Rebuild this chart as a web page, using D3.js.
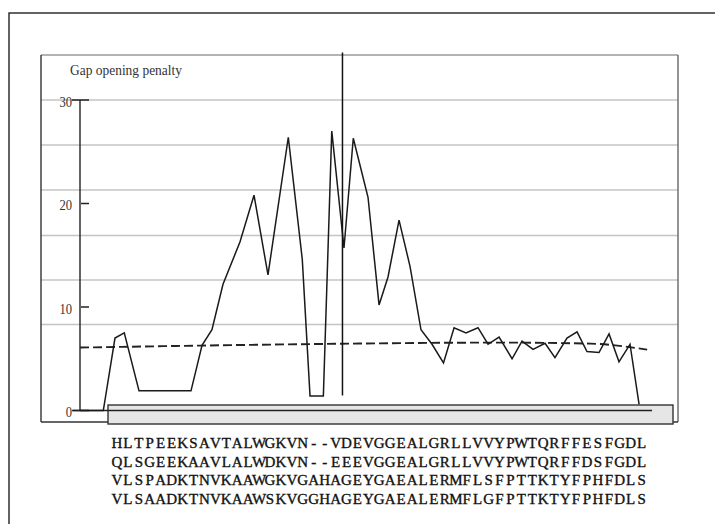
<!DOCTYPE html>
<html>
<head>
<meta charset="utf-8">
<script src="https://cdn.jsdelivr.net/npm/d3@7"></script>
<style>
  body { margin: 0; background: #fff; }
  svg { display: block; }
</style>
</head>
<body>
<div id="chart"></div>
<script>
// ===== data =====
// alignment column of each vertex of the penalty profile
var positions = [-3.43, -1.3, -0.23, 0.62, 1.97, 6.73, 7.74, 8.65, 9.66, 11.22,
    12.5, 13.78, 15.64, 16.92, 17.63, 18.85, 19.62, 20.74, 21.59, 22.94,
    23.95, 24.77, 25.78, 26.79, 27.79, 28.8, 29.85, 30.82, 31.91, 33.01,
    33.93, 34.94, 36.13, 37.04, 38.05, 39.15, 40.06, 41.16, 42.08, 42.99,
    44.09, 45.01, 45.92, 46.93, 47.76];
// gap opening penalty at each vertex
var penalty = [0, 0, 7.0, 7.5, 1.9, 1.9, 6.3, 7.8, 12.2, 16.3,
    20.8, 13.1, 26.4, 14.6, 1.4, 1.4, 27.0, 15.7, 26.3, 20.6,
    10.2, 12.9, 18.4, 13.9, 7.8, 6.4, 4.6, 8.0, 7.5, 8.0,
    6.4, 7.1, 5.0, 6.7, 5.9, 6.5, 5.1, 7.0, 7.6, 5.7,
    5.6, 7.4, 4.7, 6.4, 0.6];

// dashed average line
var meanPos = [-3.43, 7.55, 21.3, 35.0, 43.3, 48.5];
var meanVal = [6.08, 6.27, 6.46, 6.56, 6.46, 5.88];

var yTicks = [0, 10, 20, 30];
var gridVals = [8.3, 12.6, 16.9, 21.3, 25.65, 30];

// vertical marker
var markerPos = 20.6;
var markerSpan = [1.45, 34.6];

// zero baseline extent
var baseSpan = [-4.07, 48.95];

var axisTitle = "Gap opening penalty";
var sequences = [
    "HLTPEEKSAVTALWGKVN--VDEVGGEALGRLLVVYPWTQRFFESFGDL",
    "QLSGEEKAAVLALWDKVN--EEEVGGEALGRLLVVYPWTQRFFDSFGDL",
    "VLSPADKTNVKAAWGKVGAHAGEYGAEALERMFLSFPTTKTYFPHFDLS",
    "VLSAADKTNVKAAWSKVGGHAGEYGAEALERMFLGFPTTKTYFPHFDLS"
];

// ===== drawing =====
var svg = d3.select("#chart")
    .append("svg")
    .attr("width", 715)
    .attr("height", 524)

var xScale = d3.scaleLinear().domain([0, 48]).range([117.5, 641.7])
var yScale = d3.scaleLinear().domain([0, 30]).range([410.5, 100])

// outer frame (runs off the page on right and bottom)
svg.append("rect")
    .attr("x", 9).attr("y", 13)
    .attr("width", 720).attr("height", 530)
    .attr("fill", "none")
    .attr("stroke", "#222")
    .attr("stroke-width", 1.4)

// background grid
svg.selectAll(".grid")
    .data(gridVals)
    .enter().append("line")
    .attr("class", "grid")
    .attr("x1", 41).attr("x2", 678)
    .attr("y1", function(d){return yScale(d)})
    .attr("y2", function(d){return yScale(d)})
    .attr("stroke", "#c4c4c4")
    .attr("stroke-width", 1.5)

// plot box
svg.append("line").attr("x1", 41).attr("x2", 678).attr("y1", 55).attr("y2", 55)
    .attr("stroke", "#9a9a9a").attr("stroke-width", 1.5)
svg.append("line").attr("x1", 41).attr("x2", 41).attr("y1", 55).attr("y2", 422)
    .attr("stroke", "#333").attr("stroke-width", 1.4)
svg.append("line").attr("x1", 678).attr("x2", 678).attr("y1", 55).attr("y2", 422)
    .attr("stroke", "#666").attr("stroke-width", 1.4)
svg.append("line").attr("x1", 41).attr("x2", 678).attr("y1", 422).attr("y2", 422)
    .attr("stroke", "#333").attr("stroke-width", 1.4)

// sequence bar
svg.append("rect")
    .attr("x", 108).attr("y", 405)
    .attr("width", 565).attr("height", 19)
    .attr("fill", "#e6e6e6")
    .attr("stroke", "#333")
    .attr("stroke-width", 1.4)

// zero baseline
svg.append("line")
    .attr("x1", xScale(baseSpan[0])).attr("x2", xScale(baseSpan[1]))
    .attr("y1", yScale(0)).attr("y2", yScale(0))
    .attr("stroke", "#222")
    .attr("stroke-width", 1.3)

// y axis
svg.append("line")
    .attr("x1", 80).attr("x2", 80)
    .attr("y1", yScale(30)).attr("y2", yScale(0))
    .attr("stroke", "#222")
    .attr("stroke-width", 1.4)

svg.selectAll(".tick")
    .data(yTicks)
    .enter().append("line")
    .attr("class", "tick")
    .attr("x1", function(d){return (d == 30 || d == 0) ? 72 : 81})
    .attr("x2", 89)
    .attr("y1", function(d){return yScale(d)})
    .attr("y2", function(d){return yScale(d)})
    .attr("stroke", "#222")
    .attr("stroke-width", 1.5)

svg.selectAll(".tlabel")
    .data(yTicks)
    .enter().append("text")
    .attr("class", "tlabel")
    .text(function(d){return d})
    .attr("x", 72)
    .attr("y", function(d){return yScale(d) + 1.5})
    .attr("dy", "0.35em")
    .attr("text-anchor", "end")
    .attr("font-family", "Liberation Serif, serif")
    .attr("font-size", "15px")
    .attr("textLength", function(d){return String(d).length * 6.3})
    .attr("lengthAdjust", "spacingAndGlyphs")
    .attr("fill", "#333")

// axis title
svg.append("text")
    .text(axisTitle)
    .attr("x", 70)
    .attr("y", 75)
    .attr("font-family", "Liberation Serif, serif")
    .attr("font-size", "14px")
    .attr("textLength", 112)
    .attr("lengthAdjust", "spacingAndGlyphs")
    .attr("fill", "#333")

// dashed mean line
var meanLine = d3.line()
    .x(function(d){return xScale(d)})
    .y(function(d,i){return yScale(meanVal[i])})
    .curve(d3.curveMonotoneX)

svg.append("path")
    .datum(meanPos)
    .attr("d", meanLine)
    .attr("fill", "none")
    .attr("stroke", "#222")
    .attr("stroke-width", 1.9)
    .attr("stroke-dasharray", "9,4")

// penalty profile
var profile = d3.line()
    .x(function(d){return xScale(d)})
    .y(function(d,i){return yScale(penalty[i])})

svg.append("path")
    .datum(positions)
    .attr("d", profile)
    .attr("fill", "none")
    .attr("stroke", "#1a1a1a")
    .attr("stroke-width", 1.5)
    .attr("stroke-linejoin", "miter")

// vertical marker
svg.append("line")
    .attr("x1", xScale(markerPos)).attr("x2", xScale(markerPos))
    .attr("y1", yScale(markerSpan[1])).attr("y2", yScale(markerSpan[0]))
    .attr("stroke", "#111")
    .attr("stroke-width", 1.5)

// aligned sequences, one fixed-width cell per residue
var cell = 10.93
svg.selectAll(".seq")
    .data(sequences)
    .enter().append("text")
    .attr("class", "seq")
    .text(function(d){return d})
    .attr("x", function(d){
        return d.split("").map(function(c,i){return (111.5 + cell * (i + 0.5)).toFixed(2)}).join(" ")
    })
    .attr("y", function(d,i){return 448 + i * 18.6})
    .attr("text-anchor", "middle")
    .attr("font-family", "Liberation Serif, serif")
    .attr("font-size", "15px")
    .attr("fill", "#111")
    .attr("stroke", "#111")
    .attr("stroke-width", 0.35)
</script>
</body>
</html>
